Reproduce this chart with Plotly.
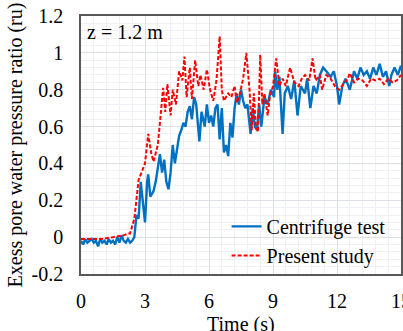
import plotly.graph_objects as go

# Centrifuge test record (time in s, excess pore pressure ratio ru)
t_test = [0.0, 0.1, 0.2, 0.3, 0.4, 0.5, 0.6, 0.7, 0.8, 0.9, 1.0, 1.1, 1.2, 1.3,
          1.4, 1.5, 1.6, 1.7, 1.8, 1.9, 2.0, 2.1, 2.2, 2.3, 2.4,
          2.5, 2.6, 2.7, 2.8, 2.9, 3.0, 3.1, 3.15, 3.25, 3.4, 3.5, 3.6, 3.7,
          3.8, 3.9, 4.0, 4.1, 4.2, 4.3, 4.4, 4.5, 4.6, 4.7, 4.8, 4.9, 5.0,
          5.1, 5.2, 5.3, 5.4, 5.55, 5.65, 5.8, 5.9, 6.0, 6.1, 6.2, 6.3, 6.4,
          6.5, 6.6, 6.7, 6.8, 6.9, 7.0, 7.1, 7.2, 7.3, 7.4, 7.5, 7.6, 7.7,
          7.8, 7.95, 8.05, 8.15, 8.25, 8.35, 8.45, 8.6, 8.75, 8.9, 9.05, 9.1,
          9.2, 9.3, 9.45, 9.55, 9.7, 9.85, 10.0, 10.15, 10.3, 10.5, 10.6,
          10.75, 10.9, 11.05, 11.2, 11.35, 11.5, 11.7, 11.85, 12.0, 12.1,
          12.25, 12.4, 12.6, 12.8, 12.95, 13.1, 13.25, 13.4, 13.55, 13.7,
          13.85, 14.0, 14.15, 14.3, 14.45, 14.55, 14.7, 14.85, 15.0]
ru_test = [-0.02, -0.04, -0.01, -0.03, -0.02, -0.01, -0.03, -0.02, -0.05, -0.01,
           -0.03, -0.02, -0.04, -0.01, -0.03, -0.02, -0.04, 0.0, -0.03, 0.01,
           -0.02, -0.03, -0.01, -0.03, -0.02,
           0.0, 0.12, 0.10, 0.30, 0.18, 0.08, 0.30, 0.34, 0.22, 0.25, 0.30,
           0.38, 0.45, 0.35, 0.42, 0.30, 0.26, 0.35, 0.50, 0.40, 0.48, 0.55,
           0.58, 0.62, 0.60, 0.68, 0.71, 0.64, 0.76, 0.72, 0.52, 0.68, 0.60,
           0.72, 0.62, 0.66, 0.60, 0.70, 0.72, 0.53, 0.70, 0.46, 0.50, 0.44,
           0.62, 0.54, 0.70, 0.78, 0.72, 0.80, 0.74, 0.70, 0.72, 0.56, 0.70,
           0.60, 0.58, 0.72, 0.60, 0.76, 0.72, 0.80, 0.76, 0.90, 0.80, 0.87,
           0.56, 0.78, 0.82, 0.75, 0.85, 0.66, 0.82, 0.78, 0.86, 0.70, 0.82,
           0.78, 0.88, 0.92, 0.90, 0.87, 0.90, 0.82, 0.72, 0.82, 0.86, 0.80,
           0.90, 0.86, 0.92, 0.88, 0.90, 0.86, 0.92, 0.88, 0.94, 0.87, 0.90,
           0.82, 0.88, 0.92, 0.88, 0.93]

# Numerical prediction (present study)
t_model = [0.0, 0.5, 1.0, 1.5, 2.0, 2.2, 2.3, 2.5, 2.7, 2.9, 3.0, 3.15, 3.3,
           3.4, 3.6, 3.7, 3.85, 3.95, 4.05, 4.2, 4.3, 4.45, 4.6, 4.75, 4.85,
           4.95, 5.1, 5.2, 5.35, 5.5, 5.6, 5.75, 5.9, 6.05, 6.2, 6.35, 6.5,
           6.6, 6.7, 6.9, 7.05, 7.2, 7.3, 7.45, 7.6, 7.75, 7.9, 8.0, 8.1, 8.2,
           8.3, 8.4, 8.5, 8.6, 8.75, 8.85, 9.0, 9.15, 9.3, 9.45, 9.6, 9.8,
           10.0, 10.2, 10.35, 10.5, 10.7, 10.85, 11.0, 11.2, 11.3, 11.5, 11.7,
           11.9, 12.1, 12.3, 12.5, 12.6, 12.8, 13.0, 13.2, 13.4, 13.6, 13.8,
           14.0, 14.2, 14.4, 14.6, 14.8, 15.0]
ru_model = [-0.01, -0.01, -0.01, 0.0, 0.01, 0.02, 0.02, 0.10, 0.31, 0.37, 0.40,
            0.56, 0.45, 0.41, 0.50, 0.62, 0.81, 0.68, 0.83, 0.66, 0.80, 0.72,
            0.90, 0.85, 0.98, 0.76, 0.92, 0.75, 0.96, 0.82, 0.88, 0.80, 0.91,
            0.80, 0.74, 0.85, 1.09, 0.80, 0.74, 0.78, 0.76, 0.82, 0.73, 0.78,
            0.86, 1.00, 0.80, 0.58, 0.78, 0.60, 0.57, 0.99, 0.72, 0.78, 0.66,
            0.76, 0.82, 0.97, 0.82, 0.86, 0.82, 0.92, 0.84, 0.82, 0.86, 0.88,
            0.85, 0.97, 0.85, 0.88, 0.80, 0.88, 0.86, 0.82, 0.80, 0.83, 0.86,
            0.89, 0.84, 0.86, 0.85, 0.82, 0.86, 0.85, 0.86, 0.83, 0.86, 0.84,
            0.85, 0.88]

x_ticks = [0, 3, 6, 9, 12, 15]
y_ticks = [-0.2, 0, 0.2, 0.4, 0.6, 0.8, 1, 1.2]
y_tick_text = ["-0.2", "0", "0.2", "0.4", "0.6", "0.8", "1", "1.2"]

FONT = "Liberation Serif, Times New Roman, serif"

fig = go.Figure()
fig.add_trace(go.Scatter(
    x=t_test, y=ru_test, mode="lines", name="Centrifuge test",
    line=dict(color="#0070C0", width=2.4)))
fig.add_trace(go.Scatter(
    x=t_model, y=ru_model, mode="lines", name="Present study",
    line=dict(color="#FF0000", width=2, dash="4px,2px")))

axis_common = dict(
    showline=True, mirror=True, linecolor="#595959", linewidth=1.5,
    showgrid=True, gridcolor="#DDDFE6", gridwidth=1,
    zeroline=False, automargin=False, ticklabeloverflow="allow",
    tickfont=dict(family=FONT, size=20, color="#000000"),
    ticks="outside", tickcolor="rgba(0,0,0,0)",
)

fig.update_xaxes(
    range=[0, 15], tickvals=x_ticks, ticktext=[str(v) for v in x_ticks],
    ticklen=8,
    minor=dict(dtick=0.6, showgrid=True, gridcolor="#F0F1F5", gridwidth=1),
    **axis_common)
fig.update_yaxes(
    range=[-0.2, 1.2], tickvals=y_ticks, ticktext=y_tick_text,
    ticklen=12,
    minor=dict(dtick=0.04, showgrid=True, gridcolor="#F0F1F5", gridwidth=1),
    title=dict(text="Exess pore water pressure ratio (ru)",
               font=dict(family=FONT, size=20, color="#000000"), standoff=4),
    **axis_common)

# x-axis title, set just below the tick labels
fig.add_annotation(
    text="Time (s)", xref="paper", yref="paper", x=0.5, y=-0.142,
    xanchor="center", yanchor="top", showarrow=False,
    font=dict(family=FONT, size=20, color="#000000"))

fig.add_annotation(
    text="z = 1.2 m", xref="paper", yref="paper", x=0.012, y=0.99,
    xanchor="left", yanchor="top", showarrow=False,
    font=dict(family=FONT, size=20, color="#000000"))

fig.update_layout(
    width=403, height=331,
    margin=dict(l=81, r=2, t=16, b=57),
    paper_bgcolor="white", plot_bgcolor="white",
    showlegend=True,
    legend=dict(
        x=0.455, y=0.26, xanchor="left", yanchor="top",
        bgcolor="rgba(255,255,255,0)", borderwidth=0,
        font=dict(family=FONT, size=20, color="#000000"),
        itemwidth=30, tracegroupgap=0),
)

fig.write_html("out.html")
